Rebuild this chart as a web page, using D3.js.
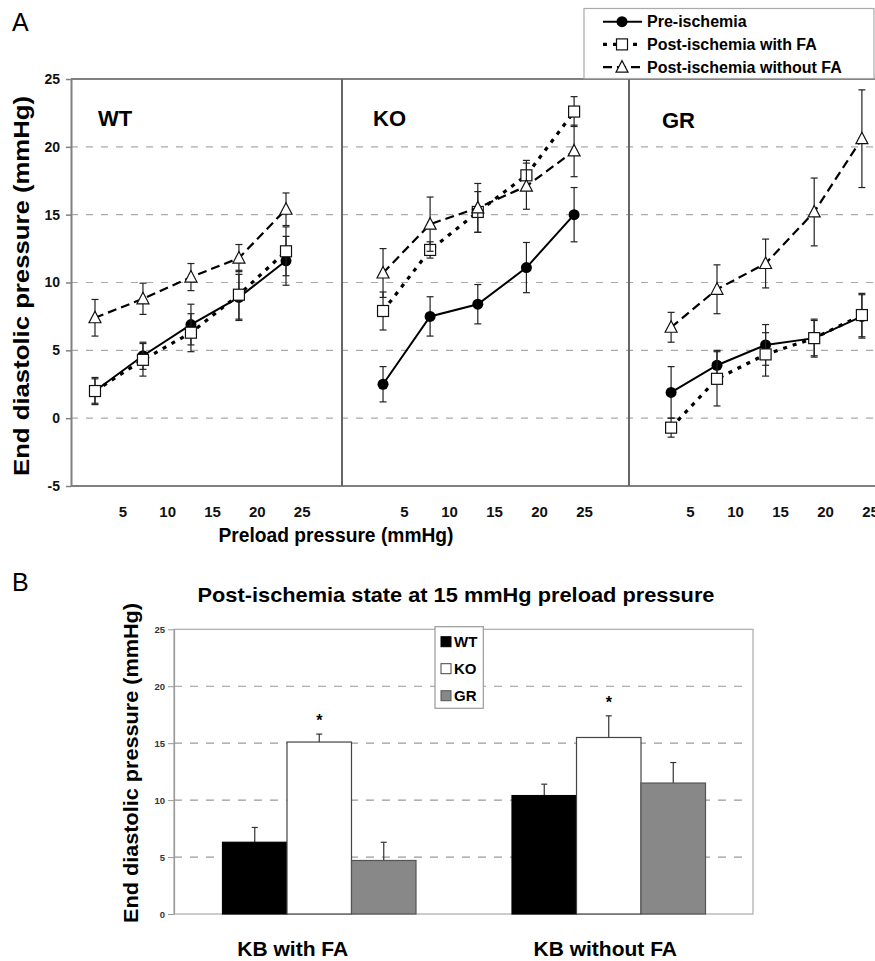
<!DOCTYPE html>
<html>
  <head>
    <meta charset="utf-8">
    <script src="https://d3js.org/d3.v7.min.js"></script>
    <style>
      body { margin: 0; background: #fff; }
      svg text { font-family: "Liberation Sans", Arial, sans-serif; }
    </style>
  </head>
  <body>
    <div id="chart"></div>
  <script>
    // ---- panel A data: end diastolic pressure vs preload, per genotype ----
    var panelNames = ["WT", "KO", "GR"];
    var seriesNames = ["Pre-ischemia", "Post-ischemia with FA", "Post-ischemia without FA"];
    var xTicks = [5, 10, 15, 20, 25];
    var yTicksA = [-5, 0, 5, 10, 15, 20, 25];

    // preload positions of the points (as drawn, per panel)
    var preloadWT = [1.95, 7.3, 12.65, 18.0, 23.25];
    var preloadKO = [2.67, 7.9, 13.2, 18.6, 23.9];
    var preloadGR = [2.9, 8.0, 13.4, 18.8, 24.1];

    var preWT = [2.0, 4.6, 6.9, 8.9, 11.6],   preWTerr = [0.9, 1.0, 1.5, 1.7, 1.8];
    var faWT  = [2.0, 4.3, 6.3, 9.1, 12.3],   faWTerr  = [1.0, 1.2, 1.4, 1.8, 1.8];
    var noWT  = [7.4, 8.8, 10.4, 11.8, 15.4], noWTerr  = [1.35, 1.15, 1.0, 1.0, 1.2];

    var preKO = [2.5, 7.5, 8.4, 11.1, 15.0],   preKOerr = [1.3, 1.45, 1.45, 1.85, 2.0];
    var faKO  = [7.9, 12.4, 15.2, 17.9, 22.6], faKOerr  = [1.4, 0.6, 1.5, 1.1, 1.1];
    var noKO  = [10.7, 14.3, 15.5, 17.1, 19.7], noKOerr = [1.8, 2.0, 1.8, 1.7, 1.9];

    var preGR = [1.9, 3.9, 5.4, 5.9, 7.5],    preGRerr = [1.9, 1.1, 1.5, 1.4, 1.6];
    var faGR  = [-0.7, 2.9, 4.7, 5.9, 7.6],   faGRerr  = [0.7, 2.0, 1.6, 1.3, 1.6];
    var noGR  = [6.7, 9.5, 11.4, 15.2, 20.6], noGRerr  = [1.1, 1.8, 1.8, 2.5, 3.6];

    // ---- panel B data: post-ischemia at 15 mmHg preload ----
    var conditions = ["KB with FA", "KB without FA"];
    var genotypes = ["WT", "KO", "GR"];
    var withFA = [6.3, 15.1, 4.7],     withFAerr = [1.3, 0.7, 1.6];
    var withoutFA = [10.4, 15.5, 11.5], withoutFAerr = [1.0, 1.9, 1.8];
    var significant = ["KO"];
    var yTicksB = [0, 5, 10, 15, 20, 25];

    var width = 875, height = 961;
    var svg = d3.select("#chart").append("svg")
        .attr("width", width)
        .attr("height", height);

    var plainNum = function(d) { return String(d); };

    // ================= PANEL A =================
    var aTop = 79, aBottom = 486, aLeft = 71;
    var dividers = [342, 629];

    var y = d3.scaleLinear().domain([-5, 25]).range([aBottom, aTop]);

    // panels: each gets its own x scale (0..25 mapped to where the labels sit)
    var panels = [
      {name: "WT", x: d3.scaleLinear().domain([0, 25]).range([77.5, 301.7]), labelX: 98, labelY: 126,
       preload: preloadWT, series: [[preWT, preWTerr], [faWT, faWTerr], [noWT, noWTerr]]},
      {name: "KO", x: d3.scaleLinear().domain([0, 25]).range([359, 584]), labelX: 373, labelY: 126,
       preload: preloadKO, series: [[preKO, preKOerr], [faKO, faKOerr], [noKO, noKOerr]]},
      {name: "GR", x: d3.scaleLinear().domain([0, 25]).range([645, 870]), labelX: 662, labelY: 128,
       preload: preloadGR, series: [[preGR, preGRerr], [faGR, faGRerr], [noGR, noGRerr]]}
    ];

    var styles = [
      {dash: null, width: 2, marker: "circle"},
      {dash: "4,6", width: 3.2, marker: "square"},
      {dash: "9,5", width: 2.2, marker: "triangle"}
    ];

    svg.append("text").text("A")
        .attr("x", 12).attr("y", 31)
        .style("font-size", "25px");

    // gridlines
    svg.append("g").selectAll("line")
        .data([0, 5, 10, 15, 20])
        .enter().append("line")
        .attr("x1", aLeft).attr("x2", width)
        .attr("y1", function(d) { return y(d); })
        .attr("y2", function(d) { return y(d); })
        .attr("stroke", "#aaa")
        .attr("stroke-width", 1.2)
        .attr("stroke-dasharray", "7,8");

    // frame lines
    svg.append("line").attr("x1", aLeft).attr("x2", width).attr("y1", aTop).attr("y2", aTop)
        .attr("stroke", "#808080").attr("stroke-width", 2);
    svg.append("line").attr("x1", aLeft).attr("x2", width).attr("y1", aBottom).attr("y2", aBottom)
        .attr("stroke", "#808080").attr("stroke-width", 2);
    dividers.forEach(function(dx) {
      svg.append("line").attr("x1", dx).attr("x2", dx).attr("y1", aTop).attr("y2", aBottom)
          .attr("stroke", "#666").attr("stroke-width", 2);
    });

    // y axis
    var yAxisA = svg.append("g")
        .attr("transform", "translate(" + aLeft + ",0)")
        .call(d3.axisLeft(y).tickValues(yTicksA).tickFormat(plainNum)
          .tickSize(5).tickPadding(6).tickSizeOuter(0));
    yAxisA.select(".domain").attr("stroke", "#808080").attr("stroke-width", 2);
    yAxisA.selectAll(".tick line").attr("stroke", "#808080").attr("stroke-width", 1.5);
    yAxisA.selectAll("text")
        .style("font-size", "14px").style("font-weight", "bold")
        .style("font-family", "Liberation Sans, Arial, sans-serif")
        .attr("fill", "#111");

    svg.append("text")
        .text("End diastolic pressure (mmHg)")
        .attr("transform", "translate(29,286) rotate(-90)")
        .attr("text-anchor", "middle")
        .attr("textLength", 380)
        .attr("lengthAdjust", "spacingAndGlyphs")
        .style("font-size", "22px").style("font-weight", "bold");

    svg.append("text")
        .text("Preload pressure (mmHg)")
        .attr("x", 336).attr("y", 542)
        .attr("text-anchor", "middle")
        .attr("textLength", 235)
        .attr("lengthAdjust", "spacingAndGlyphs")
        .style("font-size", "20px").style("font-weight", "bold");

    function drawMarker(g, kind, cx, cy) {
      if (kind === "circle") {
        g.append("circle").attr("cx", cx).attr("cy", cy).attr("r", 5.5)
            .attr("fill", "#000");
      } else if (kind === "square") {
        g.append("rect").attr("x", cx - 5.5).attr("y", cy - 5.5)
            .attr("width", 11).attr("height", 11)
            .attr("fill", "#fff").attr("stroke", "#111").attr("stroke-width", 1.2);
      } else {
        g.append("path")
            .attr("d", "M" + cx + "," + (cy - 6.5) + "L" + (cx + 6) + "," + (cy + 5) + "L" + (cx - 6) + "," + (cy + 5) + "Z")
            .attr("fill", "#fff").attr("stroke", "#111").attr("stroke-width", 1.2);
      }
    }

    panels.forEach(function(p) {
      var g = svg.append("g");

      g.append("text").text(p.name)
          .attr("x", p.labelX).attr("y", p.labelY)
          .style("font-size", "22px").style("font-weight", "bold");

      var xAxis = g.append("g")
          .attr("transform", "translate(0," + aBottom + ")")
          .call(d3.axisBottom(p.x).tickValues(xTicks).tickFormat(plainNum).tickSize(0).tickPadding(20));
      xAxis.select(".domain").remove();
      xAxis.selectAll("text")
          .style("font-size", "15px").style("font-weight", "bold")
          .style("font-family", "Liberation Sans, Arial, sans-serif")
          .attr("fill", "#111");

      p.series.forEach(function(s, si) {
        var st = styles[si];
        var pts = s[0].map(function(v, i) { return {x: p.preload[i], v: v, e: s[1][i]}; });

        var line = d3.line()
            .x(function(d) { return p.x(d.x); })
            .y(function(d) { return y(d.v); });

        g.append("path").datum(pts)
            .attr("d", line)
            .attr("fill", "none")
            .attr("stroke", "#000")
            .attr("stroke-width", st.width)
            .attr("stroke-dasharray", st.dash);

        // error bars
        var eb = g.append("g").selectAll("g").data(pts).enter().append("g");
        eb.append("line")
            .attr("x1", function(d) { return p.x(d.x); })
            .attr("x2", function(d) { return p.x(d.x); })
            .attr("y1", function(d) { return y(d.v - d.e); })
            .attr("y2", function(d) { return y(d.v + d.e); })
            .attr("stroke", "#222").attr("stroke-width", 1.2);
        [-1, 1].forEach(function(sign) {
          eb.append("line")
              .attr("x1", function(d) { return p.x(d.x) - 3.5; })
              .attr("x2", function(d) { return p.x(d.x) + 3.5; })
              .attr("y1", function(d) { return y(d.v + sign * d.e); })
              .attr("y2", function(d) { return y(d.v + sign * d.e); })
              .attr("stroke", "#222").attr("stroke-width", 1.2);
        });

        pts.forEach(function(d) { drawMarker(g, st.marker, p.x(d.x), y(d.v)); });
      });
    });

    // legend A
    var legA = svg.append("g");
    legA.append("rect")
        .attr("x", 584).attr("y", 8.5).attr("width", 290).attr("height", 70)
        .attr("fill", "#fff").attr("stroke", "#aaa").attr("stroke-width", 1.2);
    seriesNames.forEach(function(name, i) {
      var ly = 21.7 + i * 22.7;
      var st = styles[i];
      legA.append("line")
          .attr("x1", 603).attr("x2", 642).attr("y1", ly).attr("y2", ly)
          .attr("stroke", "#000").attr("stroke-width", st.width)
          .attr("stroke-dasharray", st.dash);
      drawMarker(legA, st.marker, 622, ly);
      legA.append("text").text(name)
          .attr("x", 647).attr("y", ly + 5.6)
          .style("font-size", "16px").style("font-weight", "bold");
    });

    // ================= PANEL B =================
    var bTop = 629.3, bBottom = 914, bLeft = 174, bRight = 753;

    svg.append("text").text("B")
        .attr("x", 12).attr("y", 591)
        .style("font-size", "25px");

    svg.append("text")
        .text("Post-ischemia state at 15 mmHg preload pressure")
        .attr("x", 456).attr("y", 602)
        .attr("text-anchor", "middle")
        .attr("textLength", 517)
        .attr("lengthAdjust", "spacingAndGlyphs")
        .style("font-size", "21px").style("font-weight", "bold");

    var yB = d3.scaleLinear().domain([0, 25]).range([bBottom, bTop]);
    var x0 = d3.scaleBand().domain(conditions).range([bLeft, bRight]);
    var x1 = d3.scaleBand().domain(genotypes).range([48.5, 242]);
    var labelShift = [-26, -3];

    // gridlines
    svg.append("g").selectAll("line")
        .data([5, 10, 15, 20])
        .enter().append("line")
        .attr("x1", bLeft).attr("x2", 747)
        .attr("y1", function(d) { return yB(d); })
        .attr("y2", function(d) { return yB(d); })
        .attr("stroke", "#999")
        .attr("stroke-width", 1.2)
        .attr("stroke-dasharray", "8,8");

    // frame
    svg.append("rect")
        .attr("x", bLeft).attr("y", bTop)
        .attr("width", bRight - bLeft).attr("height", bBottom - bTop)
        .attr("fill", "none").attr("stroke", "#aaa").attr("stroke-width", 1.2);

    var yAxisB = svg.append("g")
        .attr("transform", "translate(" + bLeft + ",0)")
        .call(d3.axisLeft(yB).tickValues(yTicksB).tickFormat(plainNum)
          .tickSize(6).tickPadding(3).tickSizeOuter(0));
    yAxisB.select(".domain").attr("stroke", "#999").attr("stroke-width", 1.2);
    yAxisB.selectAll(".tick line").attr("stroke", "#999");
    yAxisB.selectAll("text")
        .style("font-size", "9.5px").style("font-weight", "bold")
        .style("font-family", "Liberation Sans, Arial, sans-serif")
        .attr("fill", "#333");

    svg.append("text")
        .text("End diastolic pressure (mmHg)")
        .attr("transform", "translate(138,763) rotate(-90)")
        .attr("text-anchor", "middle")
        .attr("textLength", 320)
        .attr("lengthAdjust", "spacingAndGlyphs")
        .style("font-size", "21px").style("font-weight", "bold");

    var barFill = {WT: "#000", KO: "#fff", GR: "#888"};
    var barStroke = {WT: "#000", KO: "#444", GR: "#555"};
    var barData = [
      {cond: conditions[0], vals: withFA, errs: withFAerr},
      {cond: conditions[1], vals: withoutFA, errs: withoutFAerr}
    ];

    barData.forEach(function(bd, bi) {
      var g = svg.append("g").attr("transform", "translate(" + x0(bd.cond) + ",0)");
      var rows = genotypes.map(function(gn, i) { return {g: gn, v: bd.vals[i], e: bd.errs[i]}; });

      // error bars (upper only)
      g.selectAll(".err").data(rows).enter().append("line")
          .attr("x1", function(d) { return x1(d.g) + x1.bandwidth() / 2; })
          .attr("x2", function(d) { return x1(d.g) + x1.bandwidth() / 2; })
          .attr("y1", function(d) { return yB(d.v); })
          .attr("y2", function(d) { return yB(d.v + d.e); })
          .attr("stroke", "#333").attr("stroke-width", 1.2);
      g.selectAll(".cap").data(rows).enter().append("line")
          .attr("x1", function(d) { return x1(d.g) + x1.bandwidth() / 2 - 3; })
          .attr("x2", function(d) { return x1(d.g) + x1.bandwidth() / 2 + 3; })
          .attr("y1", function(d) { return yB(d.v + d.e); })
          .attr("y2", function(d) { return yB(d.v + d.e); })
          .attr("stroke", "#333").attr("stroke-width", 1.2);

      g.selectAll("rect").data(rows).enter().append("rect")
          .attr("x", function(d) { return x1(d.g); })
          .attr("y", function(d) { return yB(d.v); })
          .attr("width", x1.bandwidth())
          .attr("height", function(d) { return yB(0) - yB(d.v); })
          .attr("fill", function(d) { return barFill[d.g]; })
          .attr("stroke", function(d) { return barStroke[d.g]; })
          .attr("stroke-width", 1.2);

      g.selectAll(".star").data(rows.filter(function(d) { return significant.indexOf(d.g) >= 0; }))
          .enter().append("text")
          .text("*")
          .attr("x", function(d) { return x1(d.g) + x1.bandwidth() / 2; })
          .attr("y", function(d) { return yB(d.v + d.e) - 8; })
          .attr("text-anchor", "middle")
          .style("font-size", "16px").style("font-weight", "bold");

      svg.append("text").text(bd.cond)
          .attr("x", x0(bd.cond) + x0.bandwidth() / 2 + labelShift[bi])
          .attr("y", 956)
          .attr("text-anchor", "middle")
          .style("font-size", "21px").style("font-weight", "bold");
    });

    // legend B
    var legB = svg.append("g");
    legB.append("rect")
        .attr("x", 435).attr("y", 626.7).attr("width", 48.3).attr("height", 81.6)
        .attr("fill", "#fff").attr("stroke", "#999").attr("stroke-width", 1.2);
    genotypes.forEach(function(gn, i) {
      var ly = 641.7 + i * 27;
      legB.append("rect")
          .attr("x", 441).attr("y", ly - 5).attr("width", 10).attr("height", 10)
          .attr("fill", barFill[gn]).attr("stroke", barStroke[gn]).attr("stroke-width", 1);
      legB.append("text").text(gn)
          .attr("x", 454).attr("y", ly + 5.5)
          .style("font-size", "15px").style("font-weight", "bold");
    });
  </script>
  </body>
</html>
